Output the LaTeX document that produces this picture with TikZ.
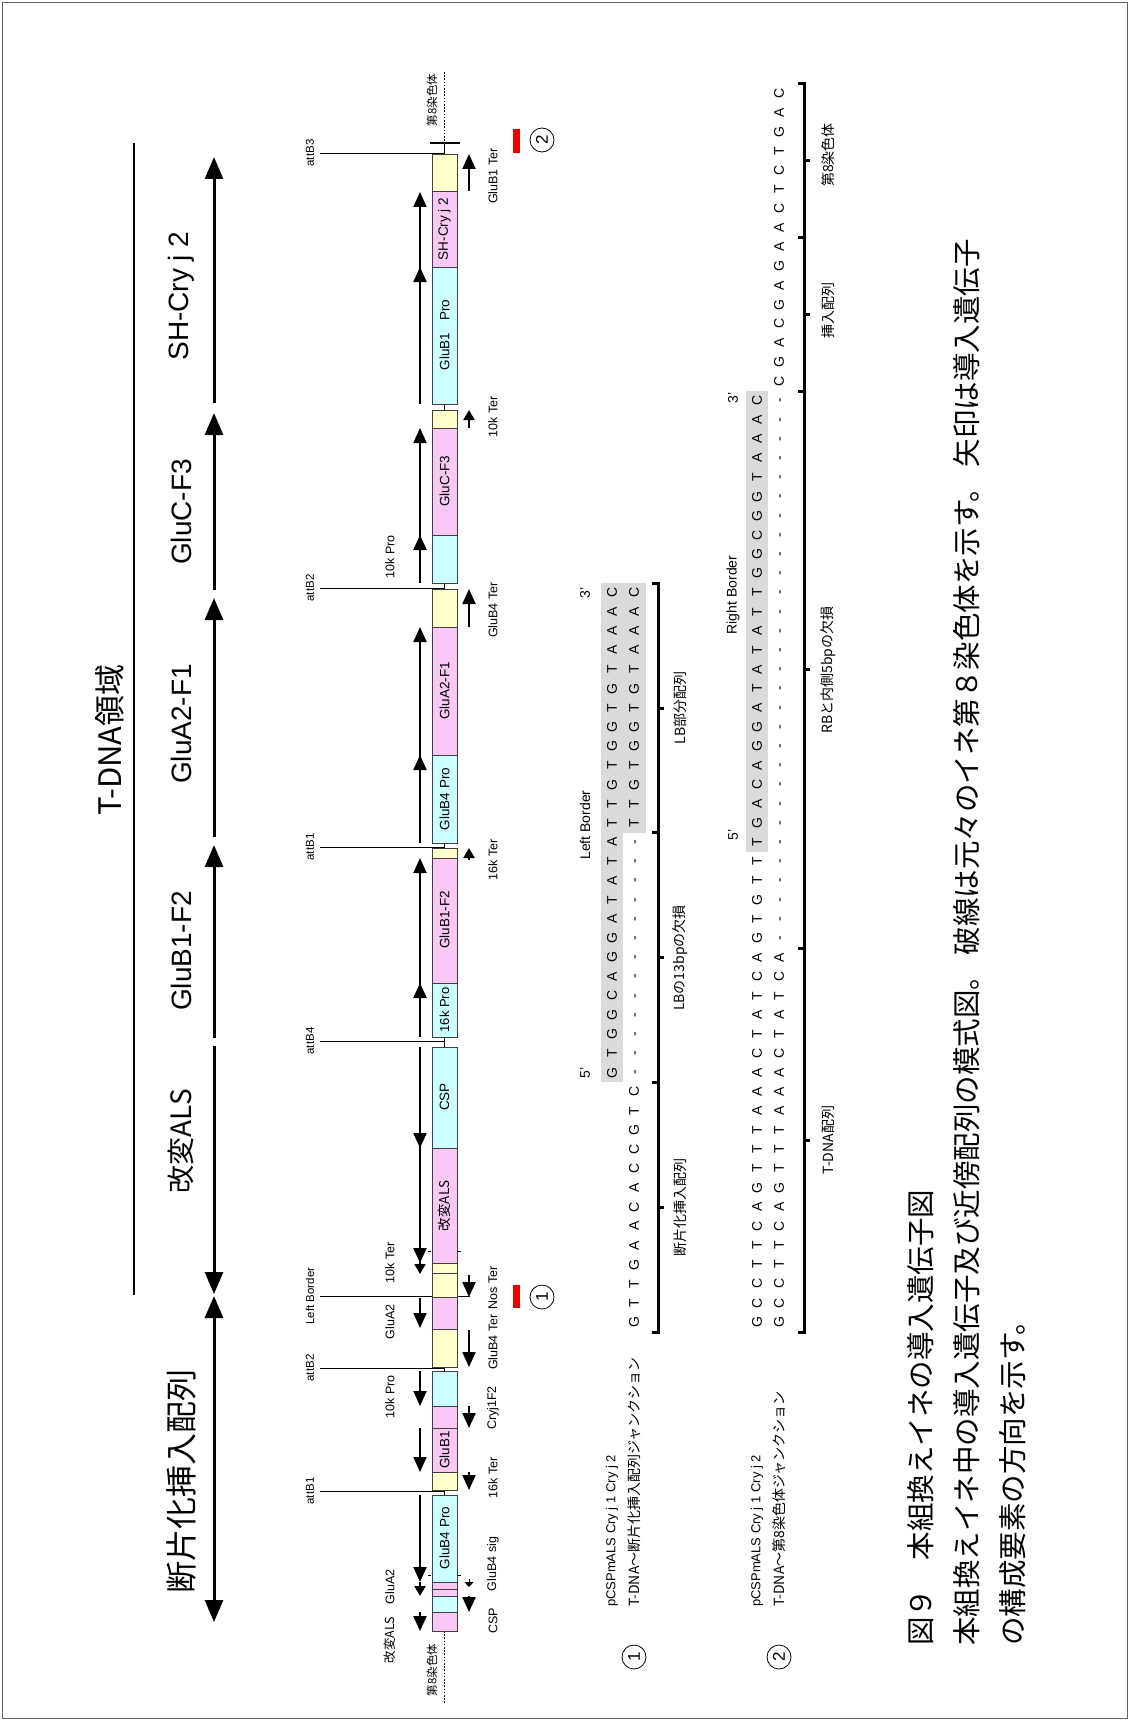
\documentclass[tikz,border=0pt]{standalone}
\usepackage{fontspec}
\setmainfont{Liberation Sans}
\newfontfamily\jp{Noto Sans CJK JP}
\usetikzlibrary{arrows.meta}
\definecolor{cyanc}{RGB}{204,255,255}
\definecolor{pinkc}{RGB}{250,200,245}
\definecolor{yelc}{RGB}{255,255,204}
\definecolor{seqgray}{RGB}{218,218,218}
\definecolor{rmark}{RGB}{235,0,0}
\makeatletter
\newcommand\sq[1]{\@tfor\sqc:=#1\do{\makebox[19.2pt][c]{\sqc}}}
\makeatother
\newcommand\fs[1]{\fontsize{#1}{#1}\selectfont}
\newcommand\brk[3]{%
  \draw[brk] (#1-6,#2) -- (#1,#2) -- (#1,#3) -- (#1-6,#3);
  \draw[brk] (#1,{(#2+#3)/2}) -- (#1+6,{(#2+#3)/2});}
\tikzset{
  rot/.style={rotate=90, inner sep=0pt},
  seg/.style={draw=black!75, line width=0.8pt},
  garr/.style={line width=2.2pt, -{Triangle[length=15pt,width=13pt]}},
  sarr/.style={line width=2.2pt, -{Triangle[length=10pt,width=11pt]}},
  bigarr/.style={line width=3pt, -{Triangle[length=22pt,width=18pt]}},
  biglbl/.style={rot, font=\fs{28}},
  barlbl/.style={rot, font=\fs{13.5}},
  sidelbl/.style={rot, font=\fs{12.5}},
  attlbl/.style={rot, font=\fs{11.5}},
  seqfont/.style={rot, anchor=west, font=\fs{14}},
  brk/.style={line width=3pt},
  brklbl/.style={rot, font=\jp\fs{14}},
  caplbl/.style={rot, anchor=west, font=\jp\fs{28.5}},
  circ/.style={circle, draw, line width=0.8pt, minimum size=24pt, inner sep=0pt, rotate=90, font=\fs{17}}
}
\begin{document}
\begin{tikzpicture}[x=1pt,y=-1pt]
\useasboundingbox (0,0) rectangle (1129,1720);
\fill[white] (0,0) rectangle (1129,1720);
\draw[black!60, line width=0.8pt] (2,2) rectangle (1127,1718);

% ---- title
\node[rot, font=\jp\fs{31}] (title) at (110,740) {T-DNA領域};
\draw[line width=1.5pt] (134,143) -- (134,1295);

% ---- big arrows
\node[biglbl] (lSH) at (181,296) {SH-Cry j 2};
\node[biglbl] (lC) at (181,512) {GluC-F3};
\node[biglbl] (lA) at (181,724) {GluA2-F1};
\node[biglbl] (lB) at (181,951) {GluB1-F2};
\node[biglbl, font=\jp\fs{28}] (lALS) at (181,1141) {改変ALS};
\node[biglbl, font=\jp\fs{32}] (lFr) at (181,1481) {断片化挿入配列};
\draw[bigarr] (214,403) -- (214,157);
\draw[bigarr] (214,590) -- (214,413);
\draw[bigarr] (214,837) -- (214,598);
\draw[bigarr] (214,1038) -- (214,845);
\draw[bigarr] (214,1046) -- (214,1294);
\draw[line width=3pt, {Triangle[length=22pt,width=18pt]}-{Triangle[length=22pt,width=18pt]}] (214,1296) -- (214,1622);

% ---- att lines and labels
\foreach \yy/\tt/\nm in {153/attB3/a1, 588/attB2/a2, 847/attB1/a3, 1041/attB4/a4, 1368/attB2/a6, 1491/attB1/a7}{
  \node[attlbl] (\nm) at (310,\yy) {\tt};
  \draw[line width=0.8pt] (320,\yy) -- (444.5,\yy);
}
\node[attlbl] (a5) at (310,1296) {Left Border};
\draw[line width=0.8pt] (320,1296) -- (470,1296);

% ---- chromosome ends
\draw[line width=1.6pt, dash pattern=on 1.6pt off 1.6pt] (444.5,72) -- (444.5,143);
\draw[line width=1.6pt] (430,143) -- (460,143);
\draw[line width=1pt] (444.5,143) -- (444.5,154);
\draw[line width=1.6pt, dash pattern=on 1.6pt off 1.6pt] (444.5,1631) -- (444.5,1703);
\node[rot, font=\jp\fs{11.5}] (ch1) at (432,100) {第8染色体};
\node[rot, font=\jp\fs{11.5}] (ch2) at (432,1670) {第8染色体};

% ---- gap connectors
\foreach \a/\b in {404/410, 583/589, 843/848, 1037/1047, 1367/1371, 1490/1495}
  \draw[line width=0.8pt] (444.5,\a) -- (444.5,\b);

% ---- bar segments
\foreach \a/\b/\c in {154/191/yelc, 191/267/pinkc, 267/404/cyanc, 410/428/yelc, 428/535/pinkc, 535/583/cyanc, 589/627/yelc, 627/755/pinkc, 755/843/cyanc, 848/858/yelc, 858/983/pinkc, 983/1037/cyanc, 1047/1148/cyanc, 1148/1263/pinkc, 1263/1273/yelc, 1273/1297/yelc, 1297/1329/pinkc, 1329/1367/yelc, 1371/1406/cyanc, 1406/1428/pinkc, 1428/1472/pinkc, 1472/1490/yelc, 1495/1582/cyanc, 1582/1589/pinkc, 1589/1596/pinkc, 1596/1612/cyanc, 1612/1631/pinkc}
  \filldraw[seg, fill=\c] (432,\a) rectangle (457,\b);
\foreach \yy in {1251, 1575}{
  \draw[line width=1pt] (428,\yy) -- (431,\yy);
  \draw[line width=1pt] (458,\yy) -- (461,\yy);
}

% ---- bar labels
\node[barlbl] (bSH) at (444.5,229) {SH-Cry j 2};
\node[barlbl] (bG1) at (444.5,335) {GluB1\hspace{12pt}Pro};
\node[barlbl] (bC) at (444.5,481) {GluC-F3};
\node[barlbl] (bA) at (444.5,691) {GluA2-F1};
\node[barlbl] (bB4) at (444.5,799) {GluB4 Pro};
\node[barlbl] (bB) at (444.5,920) {GluB1-F2};
\node[barlbl, font=\fs{13}] (b16) at (444.5,1010) {16k Pro};
\node[barlbl] (bCSP) at (444.5,1097) {CSP};
\node[barlbl, font=\jp\fs{13.5}] (bALS) at (444.5,1206) {改変ALS};
\node[barlbl] (bGB1) at (444.5,1450) {GluB1};
\node[barlbl] (bB4b) at (444.5,1538) {GluB4 Pro};

% ---- left arrows
\draw[garr] (420,404) -- (420,192);
\draw[garr] (420,300) -- (420,267);
\draw[garr] (420,583) -- (420,428);
\draw[garr] (420,565) -- (420,535);
\draw[garr] (420,843) -- (420,627);
\draw[garr] (420,785) -- (420,755);
\draw[garr] (420,1037) -- (420,858);
\draw[garr] (420,1015) -- (420,983);
\draw[garr] (420,1047) -- (420,1263);
\draw[garr] (420,1115) -- (420,1148);
\draw[sarr] (420,1262) -- (420,1274);
\draw[garr] (420,1298) -- (420,1328);
\draw[garr] (420,1371) -- (420,1406);
\draw[garr] (420,1428) -- (420,1472);
\draw[garr] (420,1495) -- (420,1582);
\draw[sarr] (420,1582) -- (420,1596);
\draw[garr] (420,1612) -- (420,1631);

% ---- right arrows
\draw[garr] (469,191) -- (469,154);
\draw[sarr] (469,428) -- (469,410);
\draw[garr] (469,627) -- (469,589);
\draw[sarr] (469,860) -- (469,848);
\draw[garr] (469,1275) -- (469,1297);
\draw[garr] (469,1330) -- (469,1367);
\draw[garr] (469,1406) -- (469,1428);
\draw[garr] (469,1472) -- (469,1490);
\draw[line width=1pt, -{Triangle[length=5pt,width=9pt]}] (469,1579) -- (469,1587);
\draw[garr] (469,1596) -- (469,1612);

% ---- left labels
\node[sidelbl] (L1) at (390,557) {10k Pro};
\node[sidelbl] (L2) at (390,1263) {10k Ter};
\node[sidelbl] (L3) at (390,1322) {GluA2};
\node[sidelbl] (L4) at (390,1397) {10k Pro};
\node[sidelbl] (L5) at (390,1587) {GluA2};
\node[sidelbl, font=\jp\fs{12.5}] (L6) at (390,1640) {改変ALS};

% ---- right labels
\foreach \yy/\tt/\nm in {176/GluB1 Ter/R1, 417/10k Ter/R2, 610/GluB4 Ter/R3, 860/16k Ter/R4, 1288/Nos Ter/R5, 1342/GluB4 Ter/R6, 1408/Cryj1F2/R7, 1478/16k Ter/R8, 1564/GluB4 sig/R9, 1621/CSP/R10}
  \node[sidelbl] (\nm) at (493,\yy) {\tt};

% ---- red markers
\fill[rmark] (513,129) rectangle (520,153);
\node[circ] (m2) at (542,140) {2};
\fill[rmark] (513,1285) rectangle (520,1308);
\node[circ] (m1) at (542,1297) {1};

% ---- junction 1
\fill[seqgray] (601,1082.4) rectangle (623,583.2);
\fill[seqgray] (623,832.8) rectangle (646,583.2);
\node[seqfont] (s1a) at (612,1082.4) {\sq{GTGGCAGGATATATTGTGGTGTAAAC}};
\node[seqfont] (s1b) at (634,1332) {\sq{GTTGAACACCGTC-------------TTGTGGTGTAAAC}};
\node[rot, font=\fs{14}] (p5a) at (585,1073) {5'};
\node[rot, font=\fs{14}] (lbl) at (585,825) {Left Border};
\node[rot, font=\fs{14}] (p3a) at (585,593) {3'};
\brk{658}{1332}{1082.4}
\brk{658}{1082.4}{832.8}
\brk{658}{832.8}{583.2}
\node[brklbl] (k1) at (680,1207) {断片化挿入配列};
\node[brklbl] (k2) at (680,958) {LBの13bpの欠損};
\node[brklbl] (k3) at (680,708) {LB部分配列};
\node[circ] (c1) at (634,1657) {1};
\node[rot, anchor=west, font=\fs{13}] (j1a) at (612,1607) {pCSPmALS Cry j 1 Cry j 2};
\node[rot, anchor=west, font=\jp\fs{14}] (j1b) at (634,1607) {T-DNA～断片化挿入配列ジャンクション};

% ---- junction 2
\fill[seqgray] (746,852) rectangle (768,391.2);
\node[seqfont] (s2a) at (757,1332) {\sq{GCCTTCAGTTTAAACTATCAGTGTTTGACAGGATATATTGGCGGTAAAC}};
\node[seqfont] (s2b) at (779,1332) {\sq{GCCTTCAGTTTAAACTATCA-----------------------------CGACGAGAACTCTGAC}};
\node[rot, font=\fs{14}] (p5b) at (733,835) {5'};
\node[rot, font=\fs{14}] (rbl) at (733,595) {Right Border};
\node[rot, font=\fs{14}] (p3b) at (733,398) {3'};
\brk{804}{1332}{948}
\brk{804}{948}{391.2}
\brk{804}{391.2}{237.6}
\brk{804}{237.6}{84}
\node[brklbl] (k4) at (828,1140) {T-DNA配列};
\node[brklbl] (k5) at (828,670) {RBと内側5bpの欠損};
\node[brklbl] (k6) at (828,310) {挿入配列};
\node[brklbl] (k7) at (828,155) {第8染色体};
\node[circ] (c2) at (779,1657) {2};
\node[rot, anchor=west, font=\fs{13}] (j2a) at (757,1607) {pCSPmALS Cry j 1 Cry j 2};
\node[rot, anchor=west, font=\jp\fs{14}] (j2b) at (779,1607) {T-DNA～第8染色体ジャンクション};

% ---- caption
\node[caplbl] (cap1) at (921,1646) {図９　本組換えイネの導入遺伝子図};
\node[caplbl] (cap2) at (967,1646) {本組換えイネ中の導入遺伝子及び近傍配列の模式図。 破線は元々のイネ第８染色体を示す。 矢印は導入遺伝子};
\node[caplbl] (cap3) at (1013,1646) {の構成要素の方向を示す。};
\end{tikzpicture}
\end{document}
